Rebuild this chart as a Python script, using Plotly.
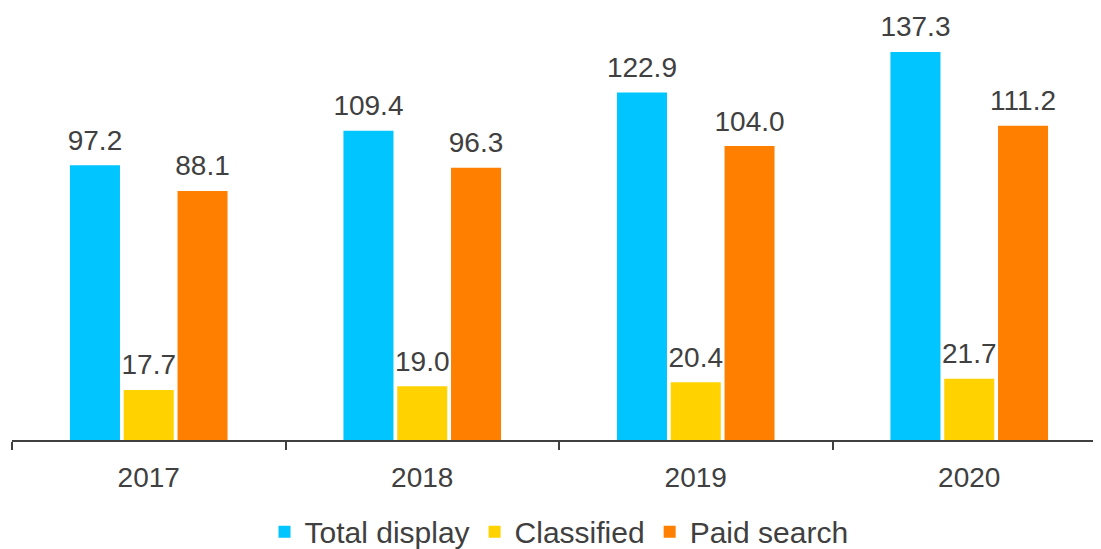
import plotly.graph_objects as go

years = ["2017", "2018", "2019", "2020"]
total_display = [97.2, 109.4, 122.9, 137.3]
classified = [17.7, 19.0, 20.4, 21.7]
paid_search = [88.1, 96.3, 104.0, 111.2]

series = [("Total display", total_display, "#00C5FF"),
          ("Classified", classified, "#FFD200"),
          ("Paid search", paid_search, "#FF8000")]

font = "Liberation Sans, Arial, sans-serif"
fig = go.Figure()
for name, values, color in series:
    fig.add_trace(go.Bar(x=years, y=values, name=name, offsetgroup=name,
                         marker=dict(color=color, line=dict(width=0))))
# value labels: invisible markers + text, grouped like the bars, so the label sits a bit above each bar
for name, values, color in series:
    fig.add_trace(go.Scatter(x=years, y=values, offsetgroup=name, mode="markers+text", showlegend=False,
                             text=[f"{v:.1f}" for v in values], textposition="top center",
                             marker=dict(size=12, opacity=0), textfont=dict(size=28, color="#404040", family=font),
                             cliponaxis=False, hoverinfo="skip"))

fig.update_layout(width=1101, height=549, paper_bgcolor="white", plot_bgcolor="white",
                  margin=dict(l=4, r=3, t=8, b=117), barmode="group", bargap=0.41, bargroupgap=0.07,
                  scattermode="group", scattergap=0.41,
                  font=dict(family=font, color="#404040"),
                  legend=dict(orientation="h", x=0.5, xanchor="center", yref="container", y=0.046, yanchor="middle",
                              font=dict(size=30, color="#404040"), traceorder="normal"))
fig.update_xaxes(range=[-0.5, 3.5], showline=True, linecolor="#404040", linewidth=2, automargin=False,
                 ticks="outside", tickson="boundaries", ticklen=8, tickwidth=2, tickcolor="#404040",
                 tickfont=dict(size=28, color="#404040"), ticklabelstandoff=11, showgrid=False)
fig.update_yaxes(range=[0, 150], visible=False, showgrid=False, automargin=False)
fig.write_html("out.html")
